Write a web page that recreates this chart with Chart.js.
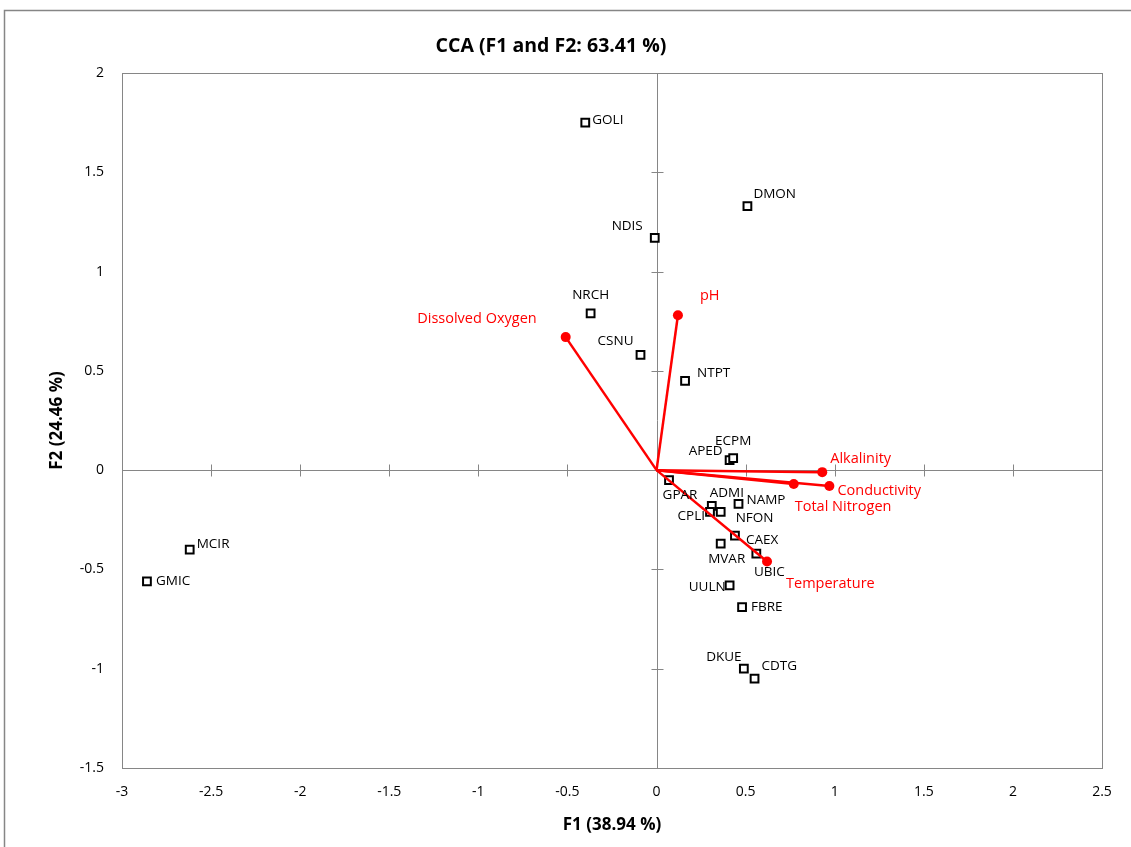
<!DOCTYPE html>
<html>
<head>
<meta charset="utf-8">
<title>CCA (F1 and F2: 63.41 %)</title>
<script src="https://cdn.jsdelivr.net/npm/chart.js@4.4.0/dist/chart.umd.min.js"></script>
<style>
  html, body { margin: 0; padding: 0; background: #fff; }
  #wrap { width: 1131px; height: 847px; }
</style>
</head>
<body>
<div id="wrap"><canvas id="myChart" width="1131" height="847"></canvas></div>
<script>
// species (sites) scores on F1 / F2
const speciesNames = ['GOLI', 'DMON', 'NDIS', 'NRCH', 'CSNU', 'NTPT', 'APED', 'ECPM', 'GPAR', 'ADMI', 'NAMP',
  'CPLI', 'NFON', 'CAEX', 'MVAR', 'UBIC', 'UULN', 'FBRE', 'DKUE', 'CDTG', 'MCIR', 'GMIC'];
const speciesF1 = [-0.40, 0.51, -0.01, -0.37, -0.09, 0.16, 0.41, 0.43, 0.07, 0.31, 0.46,
  0.30, 0.36, 0.44, 0.36, 0.56, 0.41, 0.48, 0.49, 0.55, -2.62, -2.86];
const speciesF2 = [1.75, 1.33, 1.17, 0.79, 0.58, 0.45, 0.05, 0.06, -0.05, -0.18, -0.17,
  -0.21, -0.21, -0.33, -0.37, -0.42, -0.58, -0.69, -1.00, -1.05, -0.40, -0.56];

// environmental variables (arrows)
const envNames = ['pH', 'Dissolved Oxygen', 'Alkalinity', 'Conductivity', 'Total Nitrogen', 'Temperature'];
const envF1 = [0.12, -0.51, 0.93, 0.97, 0.77, 0.62];
const envF2 = [0.78, 0.67, -0.01, -0.08, -0.07, -0.46];

const xTicks = [-3, -2.5, -2, -1.5, -1, -0.5, 0, 0.5, 1, 1.5, 2, 2.5];
const yTicks = [-1.5, -1, -0.5, 0, 0.5, 1, 1.5, 2];

// where each label sits next to its mark: [dx, dy, align]
const speciesLabelPos = [
  [7, -2, 'left'], [6, -12, 'left'], [-12, -12, 'right'], [0, -18, 'center'], [-7, -14, 'right'],
  [12, -8, 'left'], [-7, -9, 'right'], [0, -17, 'center'], [11, 15, 'center'], [15, -13, 'center'],
  [8, -4, 'left'], [-5, 4, 'right'], [15, 6, 'left'], [11, 4, 'left'], [6, 16, 'center'],
  [13, 19, 'center'], [-4, 2, 'right'], [9, 0, 'left'], [-20, -12, 'center'], [7, -12, 'left'],
  [7, -5, 'left'], [9, 0, 'left']
];
const envLabelPos = [
  [22, -19, 'left'], [-29, -18, 'right'], [8, -13, 'left'], [8, 5, 'left'], [1, 23, 'left'], [19, 22, 'left']
];

const RED = '#ff0000';
const GRAY = '#868686';
const FONT = "'Open Sans', 'Liberation Sans', sans-serif";

const datasets = [];
envNames.forEach((name, i) => {
  datasets.push({
    label: name,
    type: 'line',
    data: [{ x: 0, y: 0 }, { x: envF1[i], y: envF2[i] }],
    borderColor: RED,
    backgroundColor: RED,
    borderWidth: 2.5,
    pointRadius: [0, 5],
    pointBackgroundColor: RED,
    pointBorderWidth: 0,
    showLine: true,
    fill: false
  });
});
datasets.push({
  label: 'Species',
  type: 'scatter',
  data: speciesF1.map((x, i) => ({ x: x, y: speciesF2[i] })),
  pointStyle: 'rect',
  pointRadius: 5.5,
  pointBorderWidth: 2,
  borderColor: '#000',
  backgroundColor: '#fff'
});

const frame = {
  id: 'frame',
  beforeDraw(chart) {
    const c = chart.ctx;
    c.save();
    c.fillStyle = '#fff';
    c.fillRect(0, 0, chart.width, chart.height);
    c.strokeStyle = GRAY;
    c.lineWidth = 1.5;
    c.strokeRect(4.5, 10.5, chart.width + 20, chart.height + 20);
    c.restore();
  },
  beforeDatasetsDraw(chart) {
    const c = chart.ctx;
    const a = chart.chartArea;
    const xs = chart.scales.x, ys = chart.scales.y;
    const x0 = Math.round(xs.getPixelForValue(0)) + 0.5;
    const y0 = Math.round(ys.getPixelForValue(0)) + 0.5;
    c.save();
    c.strokeStyle = GRAY;
    c.lineWidth = 1;
    c.strokeRect(Math.round(a.left) + 0.5, Math.round(a.top) + 0.5, Math.round(a.width), Math.round(a.height));
    c.beginPath();
    c.moveTo(x0, a.top); c.lineTo(x0, a.bottom);
    c.moveTo(a.left, y0); c.lineTo(a.right, y0);
    xTicks.forEach(v => {
      const px = Math.round(xs.getPixelForValue(v)) + 0.5;
      c.moveTo(px, y0 - 6); c.lineTo(px, y0 + 6);
    });
    yTicks.forEach(v => {
      const py = Math.round(ys.getPixelForValue(v)) + 0.5;
      c.moveTo(x0 - 6, py); c.lineTo(x0 + 6, py);
    });
    c.stroke();
    c.restore();
  },
  afterDatasetsDraw(chart) {
    const c = chart.ctx;
    const xs = chart.scales.x, ys = chart.scales.y;
    c.save();
    c.textBaseline = 'middle';
    c.fillStyle = '#000';
    c.font = '13.5px ' + FONT;
    speciesNames.forEach((n, i) => {
      const p = speciesLabelPos[i];
      c.textAlign = p[2];
      c.fillText(n, xs.getPixelForValue(speciesF1[i]) + p[0], ys.getPixelForValue(speciesF2[i]) + p[1]);
    });
    c.fillStyle = RED;
    c.font = '14.5px ' + FONT;
    envNames.forEach((n, i) => {
      const p = envLabelPos[i];
      c.textAlign = p[2];
      c.fillText(n, xs.getPixelForValue(envF1[i]) + p[0], ys.getPixelForValue(envF2[i]) + p[1]);
    });
    c.restore();
  }
};

new Chart(document.getElementById('myChart'), {
  type: 'scatter',
  data: { datasets: datasets },
  plugins: [frame],
  options: {
    responsive: false,
    animation: false,
    layout: { padding: { left: 0, right: 29, top: 0, bottom: 0 } },
    plugins: {
      legend: { display: false },
      tooltip: { enabled: false },
      title: {
        display: true,
        text: 'CCA (F1 and F2: 63.41 %)',
        color: '#000',
        font: { family: FONT, size: 19.5, weight: 'bold' },
        padding: { top: 35, bottom: 14.6 }
      }
    },
    scales: {
      x: {
        type: 'linear',
        min: -3, max: 2.5,
        afterBuildTicks: s => { s.ticks = xTicks.map(v => ({ value: v })); },
        afterFit: s => { s.height = 79; },
        grid: { display: false, drawTicks: false },
        border: { display: false },
        ticks: { color: '#000', font: { family: FONT, size: 14 }, padding: 16, maxRotation: 0,
          callback: v => String(v) },
        title: {
          display: true, text: 'F1 (38.94 %)', color: '#000',
          font: { family: FONT, size: 17, weight: 'bold' },
          padding: { top: 0, bottom: 12 }
        }
      },
      y: {
        type: 'linear',
        min: -1.5, max: 2,
        afterBuildTicks: s => { s.ticks = yTicks.map(v => ({ value: v })); },
        afterFit: s => { s.width = 122; },
        grid: { display: false, drawTicks: false },
        border: { display: false },
        ticks: { color: '#000', font: { family: FONT, size: 14 }, padding: 18,
          callback: v => String(v) },
        title: {
          display: true, text: 'F2 (24.46 %)', color: '#000',
          font: { family: FONT, size: 17, weight: 'bold' },
          padding: { top: 47, bottom: 0 }
        }
      }
    }
  }
});
</script>
</body>
</html>
